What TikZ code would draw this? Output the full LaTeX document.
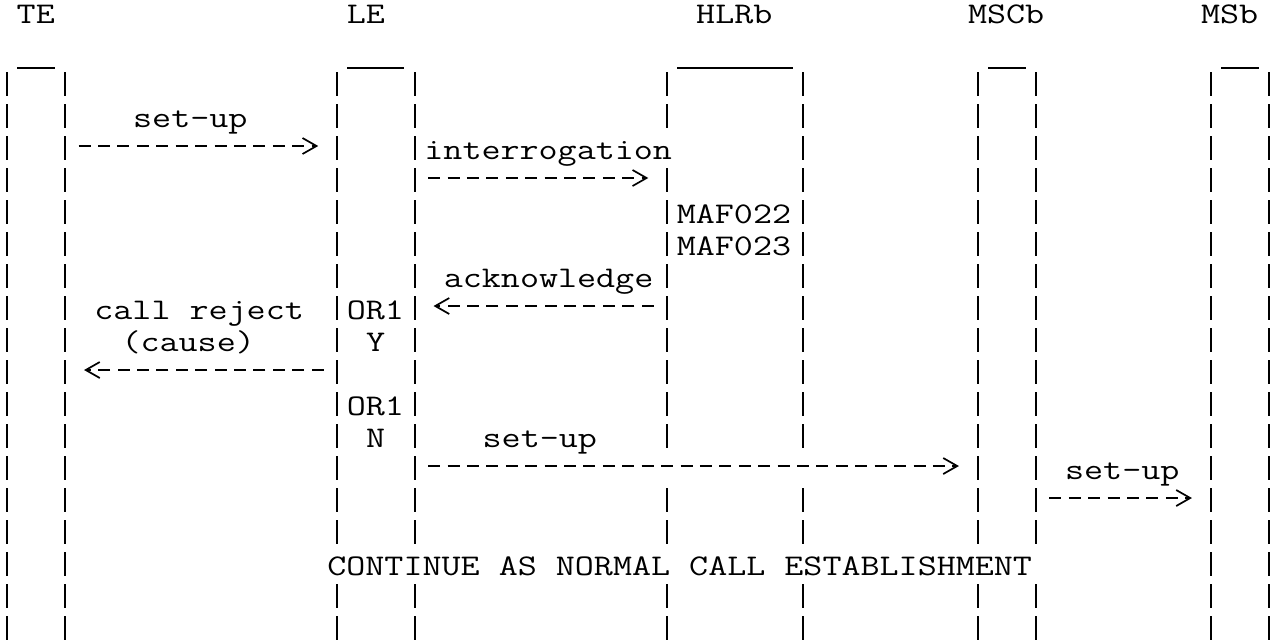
\documentclass[tikz,border=0pt]{standalone}
\usetikzlibrary{arrows.meta,calc}
\usepackage{graphicx}
\newcommand\mono[1]{\scalebox{1.2327}[1]{\fontsize{30}{32}\fontfamily{lmtt}\selectfont #1}}
\newcommand\pipes[3]{\foreach \r in {#2,...,#3}{\draw[pipe] (#1,\r+0.03) -- (#1,\r-0.72);}}
\newcommand\msgR[3]{\draw[msg] ($(#1)+(0,#3-0.406)+(13.4pt,0)$) -- ($(#2)+(0,#3-0.406)+(-10pt,0)$);}
\newcommand\msgL[3]{\draw[msg] ($(#1)+(0,#3-0.406)+(-13.4pt,0)$) -- ($(#2)+(0,#3-0.406)+(10pt,0)$);}
\begin{document}
\begin{tikzpicture}[x=19.415pt,y=-32pt,
  pipe/.style={line width=1.7pt},
  under/.style={line width=1.7pt},
  msg/.style={line width=1.7pt,dash pattern=on 12pt off 7.415pt,
     -{Straight Barb[length=14pt,width=16pt,sep=8.83pt]}},
  lbl/.style={anchor=base west,inner sep=0pt,outer sep=0pt}]
\useasboundingbox (0pt,0pt) rectangle (1282pt,-643pt);
\begin{scope}[shift={(7pt,-63pt)}]
% headers
\node[lbl] (TE)   at (0.5,-1.25)  {\mono{TE}};
\node[lbl] (LE)   at (17.5,-1.25) {\mono{LE}};
\node[lbl] (HLRb) at (35.5,-1.25) {\mono{HLRb}};
\node[lbl] (MSCb) at (49.5,-1.25) {\mono{MSCb}};
\node[lbl] (MSb)  at (61.5,-1.25) {\mono{MSb}};
% lifeline columns
\coordinate (TEa) at (0,0);  \coordinate (TEb) at (3,0);
\coordinate (LEa) at (17,0); \coordinate (LEb) at (21,0);
\coordinate (HLa) at (34,0); \coordinate (HLb) at (41,0);
\coordinate (MCa) at (50,0); \coordinate (MCb) at (53,0);
\coordinate (MSa) at (62,0); \coordinate (MSbb) at (65,0);
% caps
\draw[under] (0.53,0.156) -- (2.47,0.156);
\draw[under] (17.53,0.156) -- (20.47,0.156);
\draw[under] (34.53,0.156) -- (40.47,0.156);
\draw[under] (50.53,0.156) -- (52.47,0.156);
\draw[under] (62.53,0.156) -- (64.47,0.156);
% lifelines
\pipes{0}{1}{18} \pipes{3}{1}{18}
\pipes{17}{1}{15} \pipes{17}{17}{18}
\pipes{21}{1}{15} \pipes{21}{17}{18}
\pipes{34}{1}{2} \pipes{34}{4}{12} \pipes{34}{14}{15} \pipes{34}{17}{18}
\pipes{41}{1}{12} \pipes{41}{14}{15} \pipes{41}{17}{18}
\pipes{50}{1}{15} \pipes{50}{17}{18}
\pipes{53}{1}{15} \pipes{53}{17}{18}
\pipes{62}{1}{18} \pipes{65}{1}{18}
% messages
\msgR{TEb}{LEa}{3}
\msgR{LEb}{HLa}{4}
\msgL{HLa}{LEb}{8}
\msgL{LEa}{TEb}{10}
\msgR{LEb}{MCa}{13}
\msgR{MCb}{MSa}{14}
% labels
\node[lbl] at (6.5,2)  {\mono{set-up}};
\node[lbl] at (21.5,3) {\mono{interrogation}};
\node[lbl] at (34.5,5) {\mono{MAF022}};
\node[lbl] at (34.5,6) {\mono{MAF023}};
\node[lbl] at (22.5,7) {\mono{acknowledge}};
\node[lbl] at (4.5,8)  {\mono{call reject}};
\node[lbl] at (17.5,8) {\mono{OR1}};
\node[lbl] at (5.9,9)  {\mono{(cause)}};
\node[lbl] at (18.5,9) {\mono{Y}};
\node[lbl] at (17.5,11) {\mono{OR1}};
\node[lbl] at (18.5,12) {\mono{N}};
\node[lbl] at (24.5,12) {\mono{set-up}};
\node[lbl] at (54.5,13) {\mono{set-up}};
\node[lbl] at (16.5,16) {\mono{CONTINUE AS NORMAL CALL ESTABLISHMENT}};
\end{scope}
\end{tikzpicture}
\end{document}
